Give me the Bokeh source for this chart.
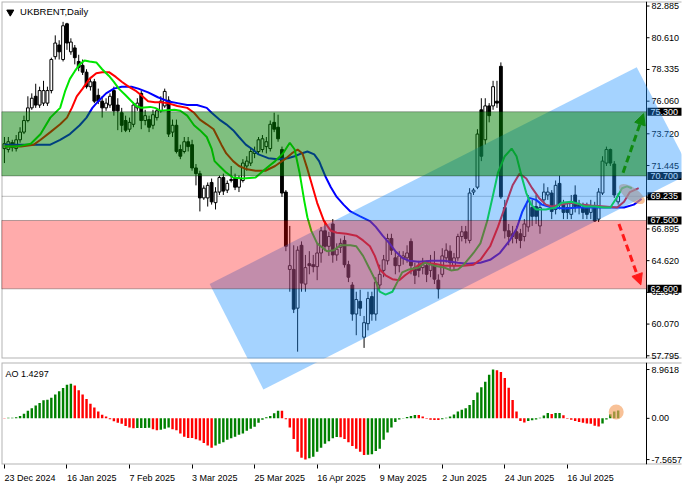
from bokeh.plotting import figure
from bokeh.models import (Range1d, FixedTicker, NumeralTickFormatter, BoxAnnotation,
                          PolyAnnotation, Label, Span, Arrow, NormalHead)
from bokeh.layouts import column
from bokeh.embed import file_html
from bokeh.resources import INLINE

FONT = "Liberation Sans"

# ---------------- data ----------------
opens = [72.66, 72.59, 73.08, 72.66, 73.29, 73.84, 74.67, 75.58, 76.41, 75.78,
         75.92, 75.92, 76.82, 79.25, 80.09, 79.05, 81.61, 79.60, 79.88, 78.91,
         78.63, 78.14, 77.10, 77.45, 76.48, 76.06, 75.58, 75.78, 76.82, 75.78,
         75.23, 74.67, 74.05, 74.40, 75.58, 76.62, 74.67, 74.74, 74.33, 74.88,
         75.37, 75.72, 76.13, 73.84, 74.33, 72.59, 72.45, 73.15, 72.94, 71.27,
         70.86, 69.12, 69.12, 70.23, 68.78, 69.54, 70.58, 69.68, 70.37, 70.51,
         69.89, 70.37, 71.41, 71.62, 72.31, 72.45, 72.59, 72.80, 72.66, 74.54,
         74.19, 72.59, 69.54, 63.99, 63.99, 61.21, 65.72, 62.94, 64.40, 64.33,
         64.19, 65.17, 66.76, 65.65, 67.25, 65.03, 65.58, 66.07, 64.33, 62.87,
         60.79, 61.70, 59.13, 60.10, 62.04, 60.79, 62.87, 63.92, 64.61, 66.21,
         64.82, 64.26, 64.82, 64.82, 66.00, 64.12, 64.26, 64.12, 64.26, 63.92,
         64.33, 63.22, 63.64, 64.82, 65.30, 64.26, 64.82, 66.35, 66.69, 66.07,
         69.54, 69.89, 75.44, 73.29, 75.72, 75.72, 76.06, 78.56, 68.43, 66.76,
         66.55, 66.69, 66.55, 66.35, 67.04, 68.43, 68.50, 67.11, 68.98, 69.33,
         69.47, 68.29, 70.16, 68.64, 68.43, 67.94, 69.33, 68.64, 68.43, 68.43,
         68.08, 68.50, 67.60, 69.47, 71.62, 72.59, 71.55, 68.84]
highs = [73.49, 73.49, 73.29, 73.63, 74.19, 75.02, 76.41, 76.62, 77.31, 77.10,
         77.52, 77.10, 79.18, 80.78, 80.43, 81.75, 81.68, 80.57, 80.09, 79.39,
         79.05, 78.35, 77.80, 77.66, 76.96, 76.41, 76.27, 76.62, 77.10, 76.27,
         75.58, 75.02, 74.88, 75.92, 76.27, 76.82, 75.44, 75.02, 75.44, 75.58,
         76.41, 76.96, 76.41, 74.74, 74.74, 72.94, 73.49, 73.49, 73.29, 71.55,
         71.07, 70.02, 70.23, 70.51, 69.89, 70.72, 70.86, 70.37, 71.41, 70.86,
         70.72, 71.90, 72.11, 72.66, 72.80, 73.49, 73.63, 73.49, 74.67, 75.23,
         75.09, 72.80, 69.68, 67.11, 65.72, 65.65, 66.00, 65.03, 65.30, 65.03,
         65.86, 67.04, 67.46, 66.69, 67.60, 65.86, 66.21, 66.41, 64.61, 63.08,
         62.39, 62.53, 60.65, 62.39, 62.39, 63.43, 64.33, 65.03, 66.55, 66.55,
         65.30, 65.30, 65.30, 65.72, 66.21, 64.47, 64.61, 64.82, 64.61, 65.03,
         65.30, 63.64, 65.51, 65.86, 65.72, 65.17, 66.55, 67.11, 67.11, 69.82,
         69.82, 74.05, 76.27, 76.27, 75.92, 77.52, 77.52, 78.84, 68.98, 67.25,
         67.11, 67.11, 66.90, 67.60, 69.33, 68.98, 69.33, 68.78, 70.16, 69.89,
         69.68, 70.37, 70.72, 68.98, 68.78, 69.33, 70.02, 68.98, 68.78, 68.78,
         68.98, 68.84, 69.82, 72.11, 72.80, 72.66, 71.76, 69.47]
lows = [71.62, 72.38, 72.45, 72.45, 73.08, 73.70, 74.54, 75.44, 75.58, 75.58,
        75.72, 75.72, 76.62, 79.05, 79.05, 78.91, 79.74, 79.39, 78.70, 78.21,
        77.94, 76.96, 76.82, 75.92, 75.85, 74.88, 75.37, 75.58, 75.02, 73.98,
        73.84, 73.84, 73.84, 74.19, 75.37, 74.05, 74.33, 73.84, 74.05, 74.67,
        75.23, 75.58, 73.49, 73.49, 72.31, 71.90, 72.31, 72.45, 71.07, 70.02,
        68.15, 68.98, 68.50, 68.64, 68.29, 69.33, 69.33, 69.47, 70.23, 69.68,
        69.54, 70.23, 71.07, 71.41, 71.97, 72.24, 72.38, 72.31, 72.45, 73.84,
        73.15, 69.19, 65.30, 62.39, 60.86, 58.09, 62.39, 62.39, 63.64, 63.78,
        63.22, 64.47, 65.30, 64.96, 64.47, 64.61, 65.17, 64.12, 63.08, 60.31,
        59.27, 60.65, 58.36, 59.62, 60.31, 60.31, 62.60, 63.43, 64.33, 65.03,
        63.64, 63.78, 64.33, 64.47, 63.64, 62.94, 63.43, 63.64, 63.08, 63.43,
        62.94, 61.90, 63.43, 64.47, 63.92, 63.92, 64.61, 66.00, 65.86, 65.86,
        69.33, 69.75, 71.76, 72.94, 74.54, 75.44, 75.58, 69.05, 66.21, 65.72,
        65.86, 65.86, 65.51, 66.00, 66.69, 67.11, 67.25, 66.55, 68.64, 68.98,
        67.60, 67.94, 68.29, 67.60, 67.60, 67.60, 68.08, 67.94, 67.60, 67.60,
        67.60, 67.39, 67.39, 69.33, 71.41, 71.41, 69.12, 68.64]
closes = [73.01, 73.15, 72.73, 73.29, 73.84, 74.67, 75.58, 76.27, 75.78, 76.82,
          76.82, 76.82, 79.05, 80.23, 79.60, 81.47, 80.23, 80.30, 79.18, 78.49,
          78.14, 77.10, 77.45, 76.06, 76.06, 75.58, 75.92, 76.41, 75.37, 75.37,
          74.33, 73.98, 74.54, 75.78, 75.92, 74.67, 75.02, 74.19, 75.09, 75.37,
          76.06, 76.76, 73.70, 74.33, 72.45, 72.11, 73.15, 72.80, 71.27, 70.86,
          69.12, 69.82, 70.02, 68.84, 69.54, 70.58, 69.61, 70.16, 70.44, 69.89,
          70.51, 71.62, 71.76, 72.45, 72.45, 73.29, 73.36, 73.15, 74.40, 74.05,
          73.36, 69.47, 65.65, 64.26, 61.14, 65.37, 63.01, 64.12, 64.26, 64.19,
          65.17, 66.76, 65.65, 66.35, 65.03, 65.44, 65.86, 64.33, 63.43, 60.79,
          61.83, 61.21, 60.17, 61.90, 60.79, 63.08, 63.64, 64.68, 66.21, 65.37,
          64.26, 64.96, 64.96, 65.17, 64.26, 63.57, 63.92, 64.33, 63.64, 64.33,
          63.29, 62.60, 64.96, 65.37, 64.47, 64.82, 66.35, 66.69, 66.21, 69.47,
          69.68, 73.70, 72.11, 75.72, 75.02, 77.10, 75.92, 69.19, 66.76, 66.35,
          66.35, 66.21, 66.07, 67.25, 68.84, 67.80, 67.80, 68.43, 69.54, 69.54,
          68.15, 70.02, 68.64, 68.08, 68.08, 68.84, 68.50, 68.43, 68.08, 67.94,
          68.50, 67.46, 69.54, 71.76, 72.59, 71.62, 69.33, 69.235]

# Alligator lines (bar position, price)
lips_idx = [0, 3, 6.75, 9.25, 11.75, 14.25, 15.5, 16.75, 18, 19.25, 20.5, 21.75, 23.5, 25, 26.75,
            28, 29.25, 31, 32.5, 33.75, 35, 37.25, 38.5, 40, 43.5, 45, 46.75, 48.5, 50, 51.75,
            53, 53.75, 55, 56.75, 58.5, 61, 64.25, 66.75, 69.25, 71.25, 73, 74.25, 75.5, 76.75,
            77.5, 78.5, 80, 82.5, 84.25, 86, 88.5, 90, 91.75, 93.5, 94.75, 96, 97.5, 99.25, 100.5,
            101.75, 103.5, 106, 107.5, 110, 112.5, 114.25, 116, 117.5, 120, 121.75, 123.5, 125,
            126.25, 128, 129.75, 131, 132.25, 133.5, 134.75, 136, 138.5, 141, 142.5, 145, 146.75,
            148.5, 151, 153.5, 155, 156.75, 158, 159.25, 160.5]
lips_val = [72.80, 72.80, 73.01, 73.70, 74.88, 75.58, 76.76, 77.66, 78.21, 78.70, 78.98, 78.91, 78.84,
            78.35, 77.87, 77.45, 76.96, 76.48, 76.06, 75.71, 75.58, 75.65, 75.58, 75.37, 75.44, 75.37,
            75.02, 74.33, 73.98, 73.49, 72.66, 71.76, 71.41, 70.93, 70.58, 70.51, 70.58, 71.20, 71.76,
            72.31, 73.08, 72.59, 70.93, 68.84, 67.73, 66.76, 65.86, 65.30, 65.37, 65.72, 65.72, 65.65,
            64.96, 63.99, 63.29, 62.39, 62.18, 62.39, 63.08, 63.78, 63.99, 64.13, 64.47, 64.26, 64.13,
            63.92, 63.99, 64.33, 65.17, 65.86, 67.46, 69.33, 70.93, 72.11, 72.66, 72.11, 70.72, 69.47,
            68.64, 68.29, 68.29, 68.43, 68.78, 68.85, 68.71, 68.50, 68.50, 68.43, 68.43, 69.19, 69.81,
            69.95, 69.81]
teeth_idx = [0, 4.25, 7.5, 9.25, 11.75, 14.25, 16, 17.25, 18.5, 20, 21.75, 23.5, 25, 26.75, 28.5,
             30, 31.75, 33.5, 35, 36.75, 38.5, 40, 41.75, 44.25, 46.75, 48.5, 50, 51.75, 53.5, 54.25,
             55.5, 56.75, 58.5, 60, 61.75, 64.25, 66.75, 69.25, 71.75, 73.5, 75, 76.25, 77.5, 78.5,
             80, 81.75, 83.5, 85, 87.5, 90, 91.75, 93.5, 94.75, 96, 97.5, 99.25, 101, 102.5, 104.25,
             106, 107.5, 110, 112.5, 115, 117.5, 120, 121.75, 124.25, 126.25, 128.5, 130, 131.75,
             133.5, 135, 136.75, 138.5, 140, 142.5, 145, 147.5, 150, 153.5, 156.75, 158.5, 160, 162.25]
teeth_val = [72.80, 72.80, 72.94, 73.29, 73.84, 74.40, 74.88, 75.58, 76.41, 76.96, 77.66, 78.07, 78.14,
             78.14, 77.80, 77.45, 77.10, 76.82, 76.48, 76.06, 75.99, 75.99, 75.92, 75.71, 75.58, 75.23,
             74.74, 74.40, 74.05, 73.63, 72.94, 72.31, 71.76, 71.41, 71.20, 71.07, 71.07, 71.41, 71.90,
             72.31, 72.59, 72.31, 71.20, 70.23, 68.77, 67.46, 66.76, 66.62, 66.55, 66.41, 66.07, 65.65,
             64.96, 63.99, 63.57, 63.29, 63.22, 63.57, 63.92, 64.33, 64.47, 64.40, 64.26, 64.26, 64.26,
             64.33, 64.68, 65.65, 67.04, 68.84, 70.02, 70.86, 70.51, 69.82, 69.12, 68.64, 68.50, 68.64,
             68.78, 68.64, 68.57, 68.50, 68.43, 68.85, 69.54, 69.82]
jaw_idx = [0, 11.75, 14.25, 16.75, 19.25, 21, 22.5, 24.25, 26, 28, 30, 32.5, 34.25, 36.75, 39.25,
           41.75, 44.25, 46.75, 49.25, 51.75, 53, 55, 56.75, 58.5, 60, 61.75, 63.5, 65, 67.5, 70,
           72.5, 74.25, 76, 77.5, 79.25, 80.5, 81, 82.25, 83.5, 85, 86.75, 88.5, 91, 93.5, 95,
           96.75, 98.5, 100, 101.75, 103.5, 106, 109.25, 112.5, 116, 118.5, 121.75, 124.25, 126.75,
           129.25, 131, 132.5, 134.25, 136, 137.5, 140, 143.5, 146.75, 150, 156, 158.5, 161, 163]
jaw_val = [72.94, 72.94, 73.29, 73.70, 74.33, 74.88, 75.58, 76.13, 76.62, 76.96, 77.10, 77.10, 76.96,
           76.69, 76.34, 76.06, 75.92, 75.78, 75.78, 75.58, 75.23, 74.74, 74.40, 73.98, 73.49, 72.94,
           72.59, 72.24, 71.97, 71.90, 71.97, 72.11, 72.31, 72.45, 72.24, 71.76, 71.41, 70.58, 69.88,
           69.19, 68.64, 68.15, 67.80, 67.46, 67.04, 66.41, 65.86, 65.30, 64.82, 64.61, 64.54, 64.61,
           64.61, 64.47, 64.40, 64.47, 64.68, 65.17, 66.07, 66.90, 68.15, 69.12, 68.98, 68.64, 68.43,
           68.36, 68.43, 68.43, 68.43, 68.43, 68.64, 69.05]

# Awesome Oscillator
ao_values = [0.08, 0.10, 0.12, 0.20, 0.45, 0.86, 1.40, 1.87, 2.35, 2.82,
             3.30, 3.42, 3.77, 4.37, 4.96, 5.56, 6.15, 6.33, 6.03, 5.14,
             4.37, 3.54, 2.70, 1.99, 1.28, 0.68, 0.33, -0.15, -0.51, -0.80,
             -0.98, -1.40, -1.69, -1.81, -1.79, -1.77, -1.75, -1.73, -1.99, -2.17,
             -2.11, -1.93, -1.69, -1.99, -2.17, -2.76, -3.36, -3.59, -3.62, -3.83,
             -4.07, -4.54, -4.96, -5.38, -4.96, -4.67, -4.37, -3.95, -3.65, -3.36,
             -3.00, -2.76, -2.29, -1.93, -1.52, -0.80, -0.27, 0.21, 0.45, 0.92,
             1.40, 1.38, -0.15, -1.69, -3.77, -6.15, -7.25, -7.57, -7.30, -7.04,
             -6.15, -5.38, -4.67, -4.19, -3.65, -3.40, -3.45, -3.77, -4.37, -5.08,
             -5.56, -6.15, -6.74, -6.70, -6.57, -5.97, -5.56, -3.95, -2.59, -1.69,
             -0.68, -0.21, 0.05, 0.27, 0.45, 0.62, 0.60, 0.33, -0.09, -0.27,
             -0.28, -0.29, -0.15, 0.10, 0.33, 0.69, 1.28, 1.57, 1.87, 2.46,
             3.36, 4.73, 5.73, 6.74, 8.00, 8.96, 8.85, 8.50, 7.40, 5.60,
             3.36, 1.28, -0.48, -0.77, -0.48, -0.36, -0.21, 0.10, 0.51, 0.98,
             0.80, 0.98, 1.00, 0.57, -0.09, -0.27, -0.48, -0.65, -0.83, -0.95,
             -0.97, -1.37, -1.49, -0.95, -0.21, 0.75, 1.25, 1.43]
ao_last = "1.4297"

date_idx = [0, 16, 32, 48, 64, 80, 96, 112, 128, 144]
date_labels = ["23 Dec 2024", "16 Jan 2025", "7 Feb 2025", "3 Mar 2025", "25 Mar 2025",
               "16 Apr 2025", "9 May 2025", "2 Jun 2025", "24 Jun 2025", "16 Jul 2025"]
price_ticks = [82.885, 80.610, 78.335, 76.060, 73.720, 71.445, 69.170, 66.895, 64.620,
               62.345, 60.070, 57.795]
ao_ticks = [8.9618, 0.0, -7.5657]
ao_tick_labels = ["8.9618", "0.00", "-7.5657"]

resistance_zone = (70.700, 75.300)
support_zone = (62.600, 67.500)
current_price = 69.235
level_marks = [75.300, 70.700, 67.500, 62.600]

channel_idx = [52.5, 161.75, 175.75, 66.25]
channel_price = [62.95, 78.49, 70.93, 55.38]

up_arrow = (158.25, 70.93, 163.5, 75.16)
down_arrow = (157.2, 67.25, 162.8, 62.88)
highlight_price = (160.5, 69.40)
highlight_ao = (156.5, 1.16)

# ---------------- geometry ----------------
# The plotting area runs to X1 (where the price scale line sits); the frame itself is
# extended to the right so that the price tags and the channel can overlap the scale.
X0, X1 = -0.75, 164.25
AXIS_PX = 645                      # px from frame left to the price-scale line
FRAME_W = 680
PX_PER_BAR = AXIS_PX / (X1 - X0)
XR_END = X0 + FRAME_W / PX_PER_BAR
TICK_LEN = 3 / PX_PER_BAR
LABEL_STANDOFF = (AXIS_PX + 5) - FRAME_W
xr = Range1d(X0, XR_END)

P_LO, P_HI = 57.60, 83.21
p = figure(frame_width=FRAME_W, frame_height=357, x_range=xr, y_range=Range1d(P_LO, P_HI),
           x_axis_location=None, y_axis_location="right", output_backend="svg",
           toolbar_location=None, min_border_left=1, min_border_right=0,
           min_border_top=1, min_border_bottom=2)
p.xgrid.visible = False
p.ygrid.visible = False
p.outline_line_color = None
p.background_fill_color = "white"
p.border_fill_color = "white"

def style_value_axis(ax, ticks):
    ax.ticker = FixedTicker(ticks=ticks)
    ax.major_label_text_font = FONT
    ax.major_label_text_font_size = "9px"
    ax.major_label_text_color = "black"
    ax.major_tick_line_color = None
    ax.major_tick_out = 0
    ax.major_tick_in = 0
    ax.minor_tick_line_color = None
    ax.axis_line_color = None
    ax.major_label_standoff = LABEL_STANDOFF

ya = p.yaxis[0]
style_value_axis(ya, price_ticks)
ya.formatter = NumeralTickFormatter(format="0.000")

# panel border and price-scale line with its tick marks
p.add_layout(BoxAnnotation(left=X0, right=XR_END + 5, bottom=P_LO, top=P_HI, fill_alpha=0,
                           line_color="black", line_width=2, level="underlay"))
p.add_layout(Span(location=X1, dimension="height", line_color="black", line_width=1))
p.segment(x0=[X1] * len(price_ticks), x1=[X1 + TICK_LEN] * len(price_ticks),
          y0=price_ticks, y1=price_ticks, line_color="black", line_width=1)

p.segment(x0=[X0], x1=[X1], y0=[current_price], y1=[current_price], line_color="#c0c0c0",
          line_width=1, level="underlay")

idx = list(range(len(opens)))
bull = [c >= o for o, c in zip(opens, closes)]
p.segment(x0=idx, y0=highs, x1=idx, y1=lows, line_color="black", line_width=1)
p.vbar(x=idx, top=[max(o, c) for o, c in zip(opens, closes)],
       bottom=[min(o, c) for o, c in zip(opens, closes)], width=0.72,
       fill_color=["white" if b else "black" for b in bull], line_color="black", line_width=1)

p.line(jaw_idx, jaw_val, line_color="#0000ff", line_width=2)
p.line(teeth_idx, teeth_val, line_color="#ff0000", line_width=2)
p.line(lips_idx, lips_val, line_color="#00e600", line_width=2)

# price tags on the scale
for lv in level_marks + [current_price]:
    p.add_layout(Label(x=X1, y=lv, text=f"{lv:.3f}", x_offset=1, text_align="left",
                       text_baseline="middle", text_font=FONT, text_font_size="9px",
                       text_color="white", background_fill_color="black",
                       padding=dict(left=3, right=12, top=1, bottom=1)))

p.add_layout(PolyAnnotation(xs=channel_idx, ys=channel_price, fill_color="#1e90ff",
                            fill_alpha=0.4, line_color=None, level="overlay"))
p.add_layout(BoxAnnotation(left=X0, right=X1, bottom=resistance_zone[0], top=resistance_zone[1],
                           fill_color="#008000", fill_alpha=0.5, line_color="black",
                           line_width=1, level="overlay"))
p.add_layout(BoxAnnotation(left=X0, right=X1, bottom=support_zone[0], top=support_zone[1],
                           fill_color="#ff0000", fill_alpha=0.33, line_color="black",
                           line_width=1, level="overlay"))

p.ellipse(x=[highlight_price[0]], y=[highlight_price[1]], width=30, height=13,
          width_units="screen", height_units="screen", angle=-0.6,
          fill_color="#f4a060", fill_alpha=0.65, line_color=None, level="overlay")

for (xs, ys, xe, ye), col in [(up_arrow, "#108a10"), (down_arrow, "#ff1a1a")]:
    p.add_layout(Arrow(x_start=xs, y_start=ys, x_end=xe, y_end=ye, line_color=col, line_width=3,
                       line_dash="7 4",
                       end=NormalHead(size=11, fill_color=col, line_color=col),
                       level="overlay"))

p.scatter(x=[1.5], y=[82.45], marker="inverted_triangle", size=7, fill_color="black",
          line_color="black")
p.add_layout(Label(x=4.0, y=82.52, text="UKBRENT,Daily", text_font=FONT, text_font_size="9.5px",
                   text_color="black", text_baseline="middle", text_align="left"))

# ---------------- AO panel ----------------
A_LO, A_HI = -8.47, 10.25
q = figure(frame_width=FRAME_W, frame_height=102, x_range=xr, y_range=Range1d(A_LO, A_HI),
           y_axis_location="right", output_backend="svg", toolbar_location=None,
           min_border_left=1, min_border_right=0, min_border_top=2, min_border_bottom=0)
q.extra_y_ranges = {"price": Range1d(49.99, 57.31)}
q.xgrid.visible = False
q.ygrid.visible = False
q.outline_line_color = None
q.background_fill_color = "white"
q.border_fill_color = "white"

CW = {" ": 2.5, "D": 6.5, "e": 5.0, "c": 4.5, "J": 4.5, "a": 5.0, "n": 5.0, "F": 5.5,
      "b": 5.0, "M": 7.5, "r": 3.0, "A": 6.0, "p": 5.0, "y": 4.5, "u": 5.0, "l": 2.0}
def text_w(s):
    return sum(CW.get(ch, 5.0) for ch in s)

label_pos = [round(i + text_w(s) / 2 / PX_PER_BAR, 3) for i, s in zip(date_idx, date_labels)]
xa = q.xaxis[0]
xa.ticker = FixedTicker(ticks=label_pos, minor_ticks=date_idx)
xa.major_label_overrides = {pos: s for pos, s in zip(label_pos, date_labels)}
xa.major_tick_line_color = None
xa.major_tick_out = 0
xa.minor_tick_line_color = "black"
xa.minor_tick_out = 4
xa.minor_tick_in = 0
xa.axis_line_color = None
xa.major_label_standoff = 4
xa.major_label_text_font = FONT
xa.major_label_text_font_size = "9px"
xa.major_label_text_color = "black"

qa = q.yaxis[0]
style_value_axis(qa, ao_ticks)
qa.major_label_overrides = {t: s for t, s in zip(ao_ticks, ao_tick_labels)}

q.add_layout(BoxAnnotation(left=X0, right=XR_END + 5, bottom=A_LO, top=A_HI, fill_alpha=0,
                           line_color="black", line_width=2, level="underlay"))
q.add_layout(Span(location=X1, dimension="height", line_color="black", line_width=1))
q.segment(x0=[X1] * len(ao_ticks), x1=[X1 + TICK_LEN] * len(ao_ticks),
          y0=ao_ticks, y1=ao_ticks, line_color="black", line_width=1)

ao_colors = ["#ff0000"] + ["#008000" if ao_values[k] > ao_values[k - 1] else "#ff0000"
                           for k in range(1, len(ao_values))]
q.vbar(x=list(range(len(ao_values))), top=ao_values, bottom=0, width=0.62,
       fill_color=ao_colors, line_color=None)
q.patch(channel_idx, channel_price, y_range_name="price", fill_color="#1e90ff",
        fill_alpha=0.4, line_color=None)
q.scatter(x=[highlight_ao[0]], y=[highlight_ao[1]], size=15, fill_color="#f4a060",
          fill_alpha=0.65, line_color=None)
q.add_layout(Label(x=0.3, y=8.1, text="AO " + ao_last, text_font=FONT, text_font_size="9px",
                   text_color="black", text_baseline="middle", text_align="left"))

layout = column(p, q, spacing=0)
open("out.html", "w").write(file_html(layout, INLINE))
